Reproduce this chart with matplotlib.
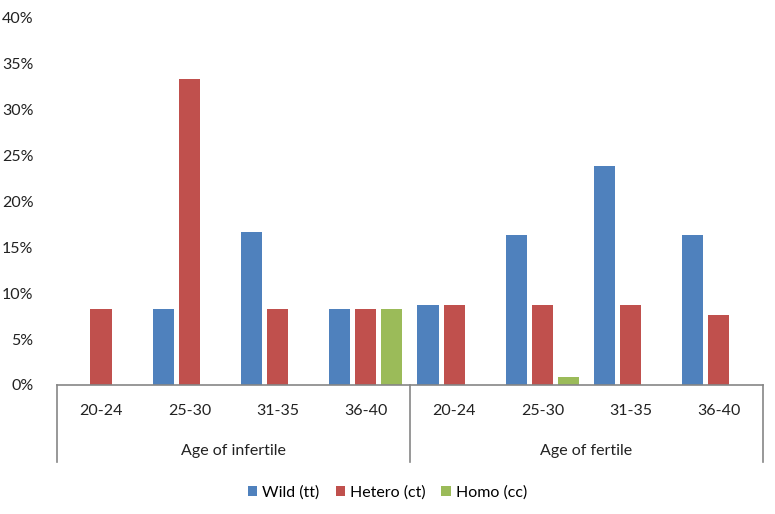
import matplotlib.pyplot as plt
import matplotlib.transforms as mtransforms
import numpy as np

plt.rcParams['font.family'] = ['Lato', 'DejaVu Sans']

# data
age_groups = ['20-24', '25-30', '31-35', '36-40']
groups = ['Age of infertile', 'Age of fertile']
categories = age_groups + age_groups
wild = [0.0, 8.33, 16.67, 8.33, 8.7, 16.3, 23.9, 16.3]
hetero = [8.33, 33.33, 8.33, 8.33, 8.7, 8.7, 8.7, 7.6]
homo = [0.0, 0.0, 0.0, 8.33, 0.0, 0.9, 0.0, 0.0]
series_names = ['Wild (tt)', 'Hetero (ct)', 'Homo (cc)']
colors = ['#4F81BD', '#C0504D', '#9BBB59']

fs = 11.5
fig = plt.figure(figsize=(7.75, 5.14), dpi=100)
ax = fig.add_axes([0.0735, 0.251, 0.911, 0.714])

x = np.arange(len(categories))
step = 0.295
width = 0.24
for i, (vals, name, c) in enumerate(zip([wild, hetero, homo], series_names, colors)):
    ax.bar(x + (i - 1) * step, vals, width, color=c, label=name)

ax.set_xlim(-0.5, len(categories) - 0.5)
ax.set_ylim(0, 40)
ax.set_yticks(np.arange(0, 41, 5))
ax.set_yticklabels(['%d%%' % v for v in np.arange(0, 41, 5)], fontsize=fs, color='#222222')
ax.tick_params(axis='y', length=0, pad=17)

ax.set_xticks(x)
ax.set_xticklabels(categories, fontsize=fs, color='#222222')
ax.tick_params(axis='x', length=0, pad=14)

for s in ['top', 'right', 'left']:
    ax.spines[s].set_visible(False)
ax.spines['bottom'].set_color('#868686')
ax.spines['bottom'].set_linewidth(1.2)

# two-level category axis
trans = mtransforms.blended_transform_factory(ax.transData, ax.transAxes)
n = len(age_groups)
for b in [-0.5, n - 0.5, 2 * n - 0.5]:
    ax.plot([b, b], [0, -0.21], transform=trans, color='#868686', lw=1.2, clip_on=False)
for gi, g in enumerate(groups):
    ax.text(gi * n + (n - 1) / 2, -0.18, g, transform=trans, ha='center', va='center',
            fontsize=fs, color='#222222')

ax.legend(loc='center', bbox_to_anchor=(0.5, 0.042), bbox_transform=fig.transFigure,
          ncol=3, frameon=False, fontsize=fs, handlelength=0.6, handleheight=0.6,
          handletextpad=0.3, columnspacing=1.0)

fig.savefig('out.png', dpi=100)
